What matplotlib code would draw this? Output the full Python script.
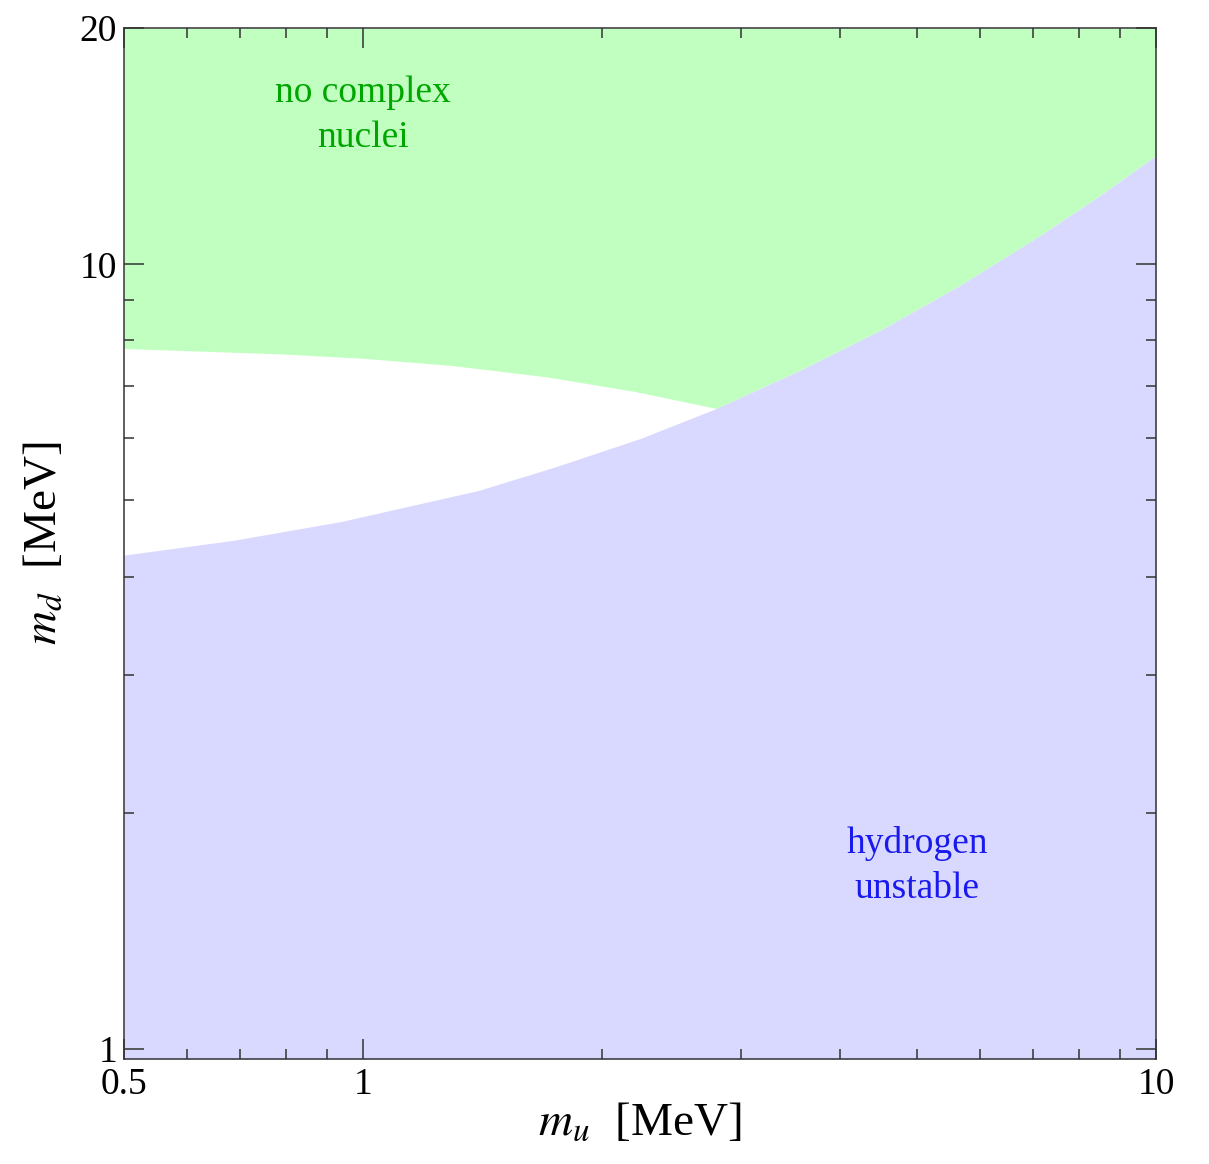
import numpy as np
import matplotlib
matplotlib.use("Agg")
import matplotlib.pyplot as plt
from matplotlib.ticker import FixedLocator, NullFormatter

plt.rcParams["font.family"] = ["Liberation Serif", "DejaVu Serif"]
plt.rcParams["mathtext.fontset"] = "stix"

# Boundary where complex nuclei cease to exist (m_u, m_d in MeV)
nuclei_mu = [0.5, 0.783, 1.0, 1.295, 1.70, 2.21, 2.79]
nuclei_md = [7.81, 7.69, 7.59, 7.43, 7.19, 6.88, 6.55]

# Boundary below which hydrogen is unstable
hydrogen_mu = [0.5, 0.688, 0.938, 1.40, 1.75, 2.24, 2.79, 3.56, 4.49, 5.66, 7.14, 8.50, 10.0]
hydrogen_md = [4.26, 4.45, 4.70, 5.15, 5.52, 6.00, 6.55, 7.33, 8.24, 9.40, 10.88, 12.24, 13.76]

x_ticks = [0.5, 1, 10]
x_tick_labels = ["0.5", "1", "10"]
y_ticks = [1, 10, 20]
y_tick_labels = ["1", "10", "20"]

x_lim = (0.5, 10)
y_lim = (0.971, 20)

green_fill = "#c1ffc1"
blue_fill = "#d9d9ff"
green_text = "#00a600"
blue_text = "#1a1aee"
axis_col = "#333333"

fig = plt.figure(figsize=(12.09, 11.64), dpi=100)
ax = fig.add_axes([0.1026, 0.0902, 0.8536, 0.8857])
ax.set_xscale("log")
ax.set_yscale("log")

# Green region: above the nuclei boundary, then above the hydrogen boundary past the crossing
hx = np.array(hydrogen_mu)
hy = np.array(hydrogen_md)
cross = nuclei_mu[-1]
green_x = np.concatenate([nuclei_mu, hx[hx > cross]])
green_y = np.concatenate([nuclei_md, hy[hx > cross]])
ax.fill_between(green_x, green_y, y_lim[1], color=green_fill, lw=0)

# Blue region: below the hydrogen boundary
ax.fill_between(hx, y_lim[0], hy, color=blue_fill, lw=0)

ax.set_xlim(*x_lim)
ax.set_ylim(*y_lim)

ax.xaxis.set_major_locator(FixedLocator(x_ticks))
ax.set_xticklabels(x_tick_labels)
ax.xaxis.set_minor_locator(FixedLocator([0.6, 0.7, 0.8, 0.9, 2, 3, 4, 5, 6, 7, 8, 9]))
ax.xaxis.set_minor_formatter(NullFormatter())
ax.yaxis.set_major_locator(FixedLocator(y_ticks))
ax.set_yticklabels(y_tick_labels)
ax.yaxis.set_minor_locator(FixedLocator([2, 3, 4, 5, 6, 7, 8, 9]))
ax.yaxis.set_minor_formatter(NullFormatter())

ax.tick_params(which="both", direction="in", top=True, right=True,
               color=axis_col, labelsize=27, labelcolor="black")
ax.tick_params(which="major", length=14.4, width=1.1)
ax.tick_params(axis="x", which="major", pad=6)
ax.tick_params(axis="y", which="major", pad=5)
ax.tick_params(which="minor", length=7.2, width=1.1)

for s in ax.spines.values():
    s.set_color(axis_col)
    s.set_linewidth(1.1)

ax.set_xlabel(r"$m_u$  [MeV]", fontsize=34, labelpad=0)
ax.set_ylabel(r"$m_d$  [MeV]", fontsize=34, labelpad=10)

ax.text(1.0, 15.5, "no complex\nnuclei", color=green_text, fontsize=27,
        ha="center", va="center", linespacing=1.4)
ax.text(5.0, 1.71, "hydrogen\nunstable", color=blue_text, fontsize=27,
        ha="center", va="center", linespacing=1.4)

fig.savefig("out.png", dpi=100)
